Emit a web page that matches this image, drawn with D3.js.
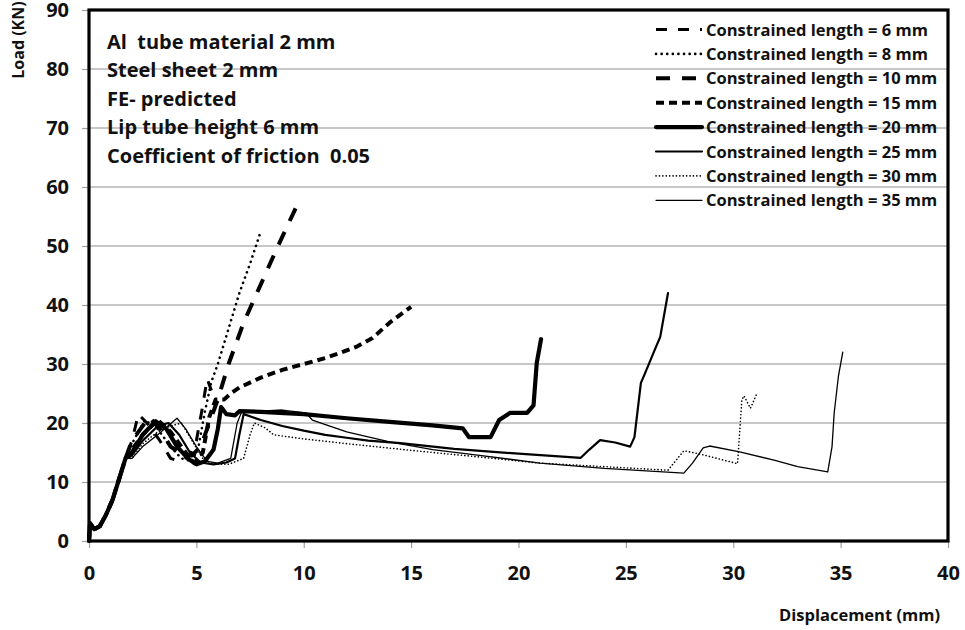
<!DOCTYPE html>
<html>
<head>
<meta charset="utf-8">
<script src="https://cdn.jsdelivr.net/npm/d3@7"></script>
<style>
  body { margin: 0; background: #fff; }
  text { font-family: "Open Sans", Lato, sans-serif; font-weight: bold; white-space: pre; }
</style>
</head>
<body>
<script>
// common start of every curve (elastic part)
var start = [[0,0],[0.05,3],[0.25,2],[0.5,2.5],[0.8,4.5],[1.1,7],[1.4,10.5],[1.7,14]];

var len6 = [[2.0,17],[2.3,21.5],[2.7,20],[3.3,17],[3.8,14],[4.2,13.5],[4.7,14.5],[5.0,17],[5.3,23],[5.5,27.5],[5.7,25.5]];
var len8 = [[2.0,16.5],[2.6,20.5],[3.2,19],[3.8,16],[4.3,14],[4.8,13.5],[5.1,16],[5.4,22],[5.7,27],[6.0,30],[6.5,36],[7.0,42],[7.5,47],[8.0,52.5]];
var len10 = [[2.0,17],[2.8,21],[3.3,19],[3.8,16],[4.4,14.5],[4.8,14.5],[5.2,16],[5.6,20],[6.0,24],[6.5,30],[7.2,37],[8.0,43.5],[8.8,50],[9.7,57]];
var len15 = [[2.0,15.5],[2.5,18],[3.2,20.5],[3.8,18.5],[4.4,15.5],[4.9,13.2],[5.3,15],[5.6,21],[5.9,24],[6.3,24],[6.6,25],[7.0,26],[8.0,27.7],[9.0,29],[10.0,30],[11.0,31],[11.7,31.9],[12.5,33],[13.2,34.4],[14.0,37],[15.0,39.7]];
var len20 = [[2.0,15],[2.5,18],[3.1,20.3],[3.6,19],[4.1,16],[4.6,14],[5.0,13],[5.4,13.5],[5.8,15.5],[6.0,19],[6.15,22.7],[6.4,21.5],[6.8,21.3],[7.0,22],[8,21.9],[10,21.5],[12,20.8],[14,20.2],[16,19.6],[17.4,19.1],[17.7,17.6],[18.7,17.6],[19.1,20.5],[19.6,21.7],[20.4,21.7],[20.7,23],[20.85,30.2],[21.05,34.2]];
var len25 = [[2.0,14.5],[2.5,17],[3.2,19.5],[3.7,20],[4.2,18],[4.7,15],[5.2,13.3],[5.8,13],[6.4,13.3],[6.8,14],[7.0,18],[7.2,21.5],[8,20.5],[9,19.5],[10,18.7],[11,18],[12,17.5],[13,17],[14.5,16.6],[17,15.6],[20,14.8],[22.9,14.1],[23.3,15.5],[23.8,17.1],[24.5,16.7],[25.2,16],[25.4,17.6],[25.7,26.8],[25.9,28.5],[26.3,32],[26.6,34.6],[26.96,42]];
var len30 = [[2.0,14],[2.5,16.5],[3.2,18.5],[3.8,19.5],[4.3,20],[4.8,17],[5.3,14],[5.8,13],[6.5,13],[7.2,14],[7.5,18],[7.7,20],[8.2,19.2],[8.6,18],[10,17.3],[12,16.5],[14.9,15.4],[18,14.3],[21,13.2],[24,12.6],[26.96,12.0],[27.7,15.3],[28.5,14.7],[30.2,13.1],[30.4,23.9],[30.5,24.6],[30.8,22.5],[31.1,25]];
var len35 = [[2.0,14],[2.5,16],[3.2,18],[4.0,20.5],[4.1,20.8],[4.5,19],[5.0,16],[5.5,13.5],[6.0,13.2],[6.6,14],[6.9,20],[7.1,21.8],[8,22],[9,22.2],[10.1,21.7],[10.4,20.5],[12,18.5],[14,16.8],[16,15.5],[18,14.6],[21,13.2],[24,12.3],[27.7,11.5],[28.1,13.2],[28.6,15.8],[28.9,16.1],[30.3,15.1],[31.9,13.7],[33,12.6],[34.4,11.7],[34.6,16],[34.7,21.7],[34.9,28],[35.1,32]];

var legendLabels = ["Constrained length = 6 mm","Constrained length = 8 mm","Constrained length = 10 mm",
  "Constrained length = 15 mm","Constrained length = 20 mm","Constrained length = 25 mm",
  "Constrained length = 30 mm","Constrained length = 35 mm"];
var notes = ["Al  tube material 2 mm","Steel sheet 2 mm","FE- predicted","Lip tube height 6 mm","Coefficient of friction  0.05"];
var xTicks = [0,5,10,15,20,25,30,35,40];
var yTicks = [0,10,20,30,40,50,60,70,80,90];

// line look for each series
var styles = [
  {w: 3,   dash: "11,11", cap: "butt"},
  {w: 2.6, dash: "0.1,5.5", cap: "round"},
  {w: 4,   dash: "14,12", cap: "butt"},
  {w: 4,   dash: "8,5", cap: "butt"},
  {w: 4.2, dash: null, cap: "round"},
  {w: 2.2, dash: null, cap: "round"},
  {w: 1.6, dash: "0.1,3.3", cap: "round"},
  {w: 1.3, dash: null, cap: "round"}
];
var series = [len6,len8,len10,len15,len20,len25,len30,len35].map(function(d){ return start.concat(d); });

var w = 965, h = 630;
var pLeft = 89, pRight = 948, pTop = 10, pBottom = 541;

var svg = d3.select("body").append("svg").attr("width", w).attr("height", h);

var x = d3.scaleLinear().domain([0,40]).range([pLeft, pRight]);
var y = d3.scaleLinear().domain([0,90]).range([pBottom, pTop]);

// gridlines
svg.append("g").selectAll("line")
  .data(yTicks.slice(1))
  .enter().append("line")
  .attr("x1", pLeft).attr("x2", pRight)
  .attr("y1", function(d){ return y(d); }).attr("y2", function(d){ return y(d); })
  .attr("stroke", "#b4b4b4").attr("stroke-width", 1.5);

// axes
var yAxis = svg.append("g").attr("transform", "translate(" + pLeft + ",0)")
  .call(d3.axisLeft(y).tickValues(yTicks).tickSize(7).tickPadding(13));
var xAxis = svg.append("g").attr("transform", "translate(0," + pBottom + ")")
  .call(d3.axisBottom(x).tickValues(xTicks).tickSize(7).tickPadding(18));
[xAxis, yAxis].forEach(function(a){
  a.select(".domain").remove();
  a.selectAll("line").attr("stroke", "#a0a0a0").attr("stroke-width", 1.2);
  a.selectAll("text").attr("font-size", "20px").attr("fill", "#111")
    .style("font-family", "'Open Sans', sans-serif").style("font-weight", "bold");
});

// notes
svg.append("g").selectAll("text")
  .data(notes).enter().append("text")
  .attr("x", 107)
  .attr("y", function(d,i){ return 49 + i * 28.4; })
  .attr("font-size", "20px").attr("fill", "#111")
  .text(function(d){ return d; });

// curves
var line = d3.line().x(function(d){ return x(d[0]); }).y(function(d){ return y(d[1]); });
svg.append("g").selectAll("path")
  .data(series).enter().append("path")
  .attr("d", line)
  .attr("fill", "none")
  .attr("stroke", "#000")
  .attr("stroke-linejoin", "round")
  .attr("stroke-width", function(d,i){ return styles[i].w; })
  .attr("stroke-linecap", function(d,i){ return styles[i].cap; })
  .attr("stroke-dasharray", function(d,i){ return styles[i].dash; });

// legend
var leg = svg.append("g").selectAll("g")
  .data(legendLabels).enter().append("g")
  .attr("transform", function(d,i){ return "translate(0," + (29.5 + i * 24.4) + ")"; });
leg.append("line")
  .attr("x1", 656).attr("x2", 702).attr("y1", 0).attr("y2", 0)
  .attr("stroke", "#000")
  .attr("stroke-width", function(d,i){ return styles[i].w; })
  .attr("stroke-linecap", function(d,i){ return styles[i].cap; })
  .attr("stroke-dasharray", function(d,i){ return styles[i].dash; });
leg.append("text")
  .attr("x", 706).attr("y", 6)
  .attr("font-size", "16.5px").attr("fill", "#111")
  .text(function(d){ return d; });

// plot frame
svg.append("rect")
  .attr("x", pLeft).attr("y", pTop)
  .attr("width", pRight - pLeft).attr("height", pBottom - pTop)
  .attr("fill", "none").attr("stroke", "#000").attr("stroke-width", 3.2);

// axis titles
svg.append("text")
  .attr("transform", "translate(24,40) rotate(-90)")
  .attr("text-anchor", "middle")
  .attr("font-size", "16px").attr("fill", "#111")
  .text("Load (KN)");
svg.append("text")
  .attr("x", 940).attr("y", 621)
  .attr("text-anchor", "end")
  .attr("font-size", "16.5px").attr("fill", "#111")
  .text("Displacement (mm)");
</script>
</body>
</html>
